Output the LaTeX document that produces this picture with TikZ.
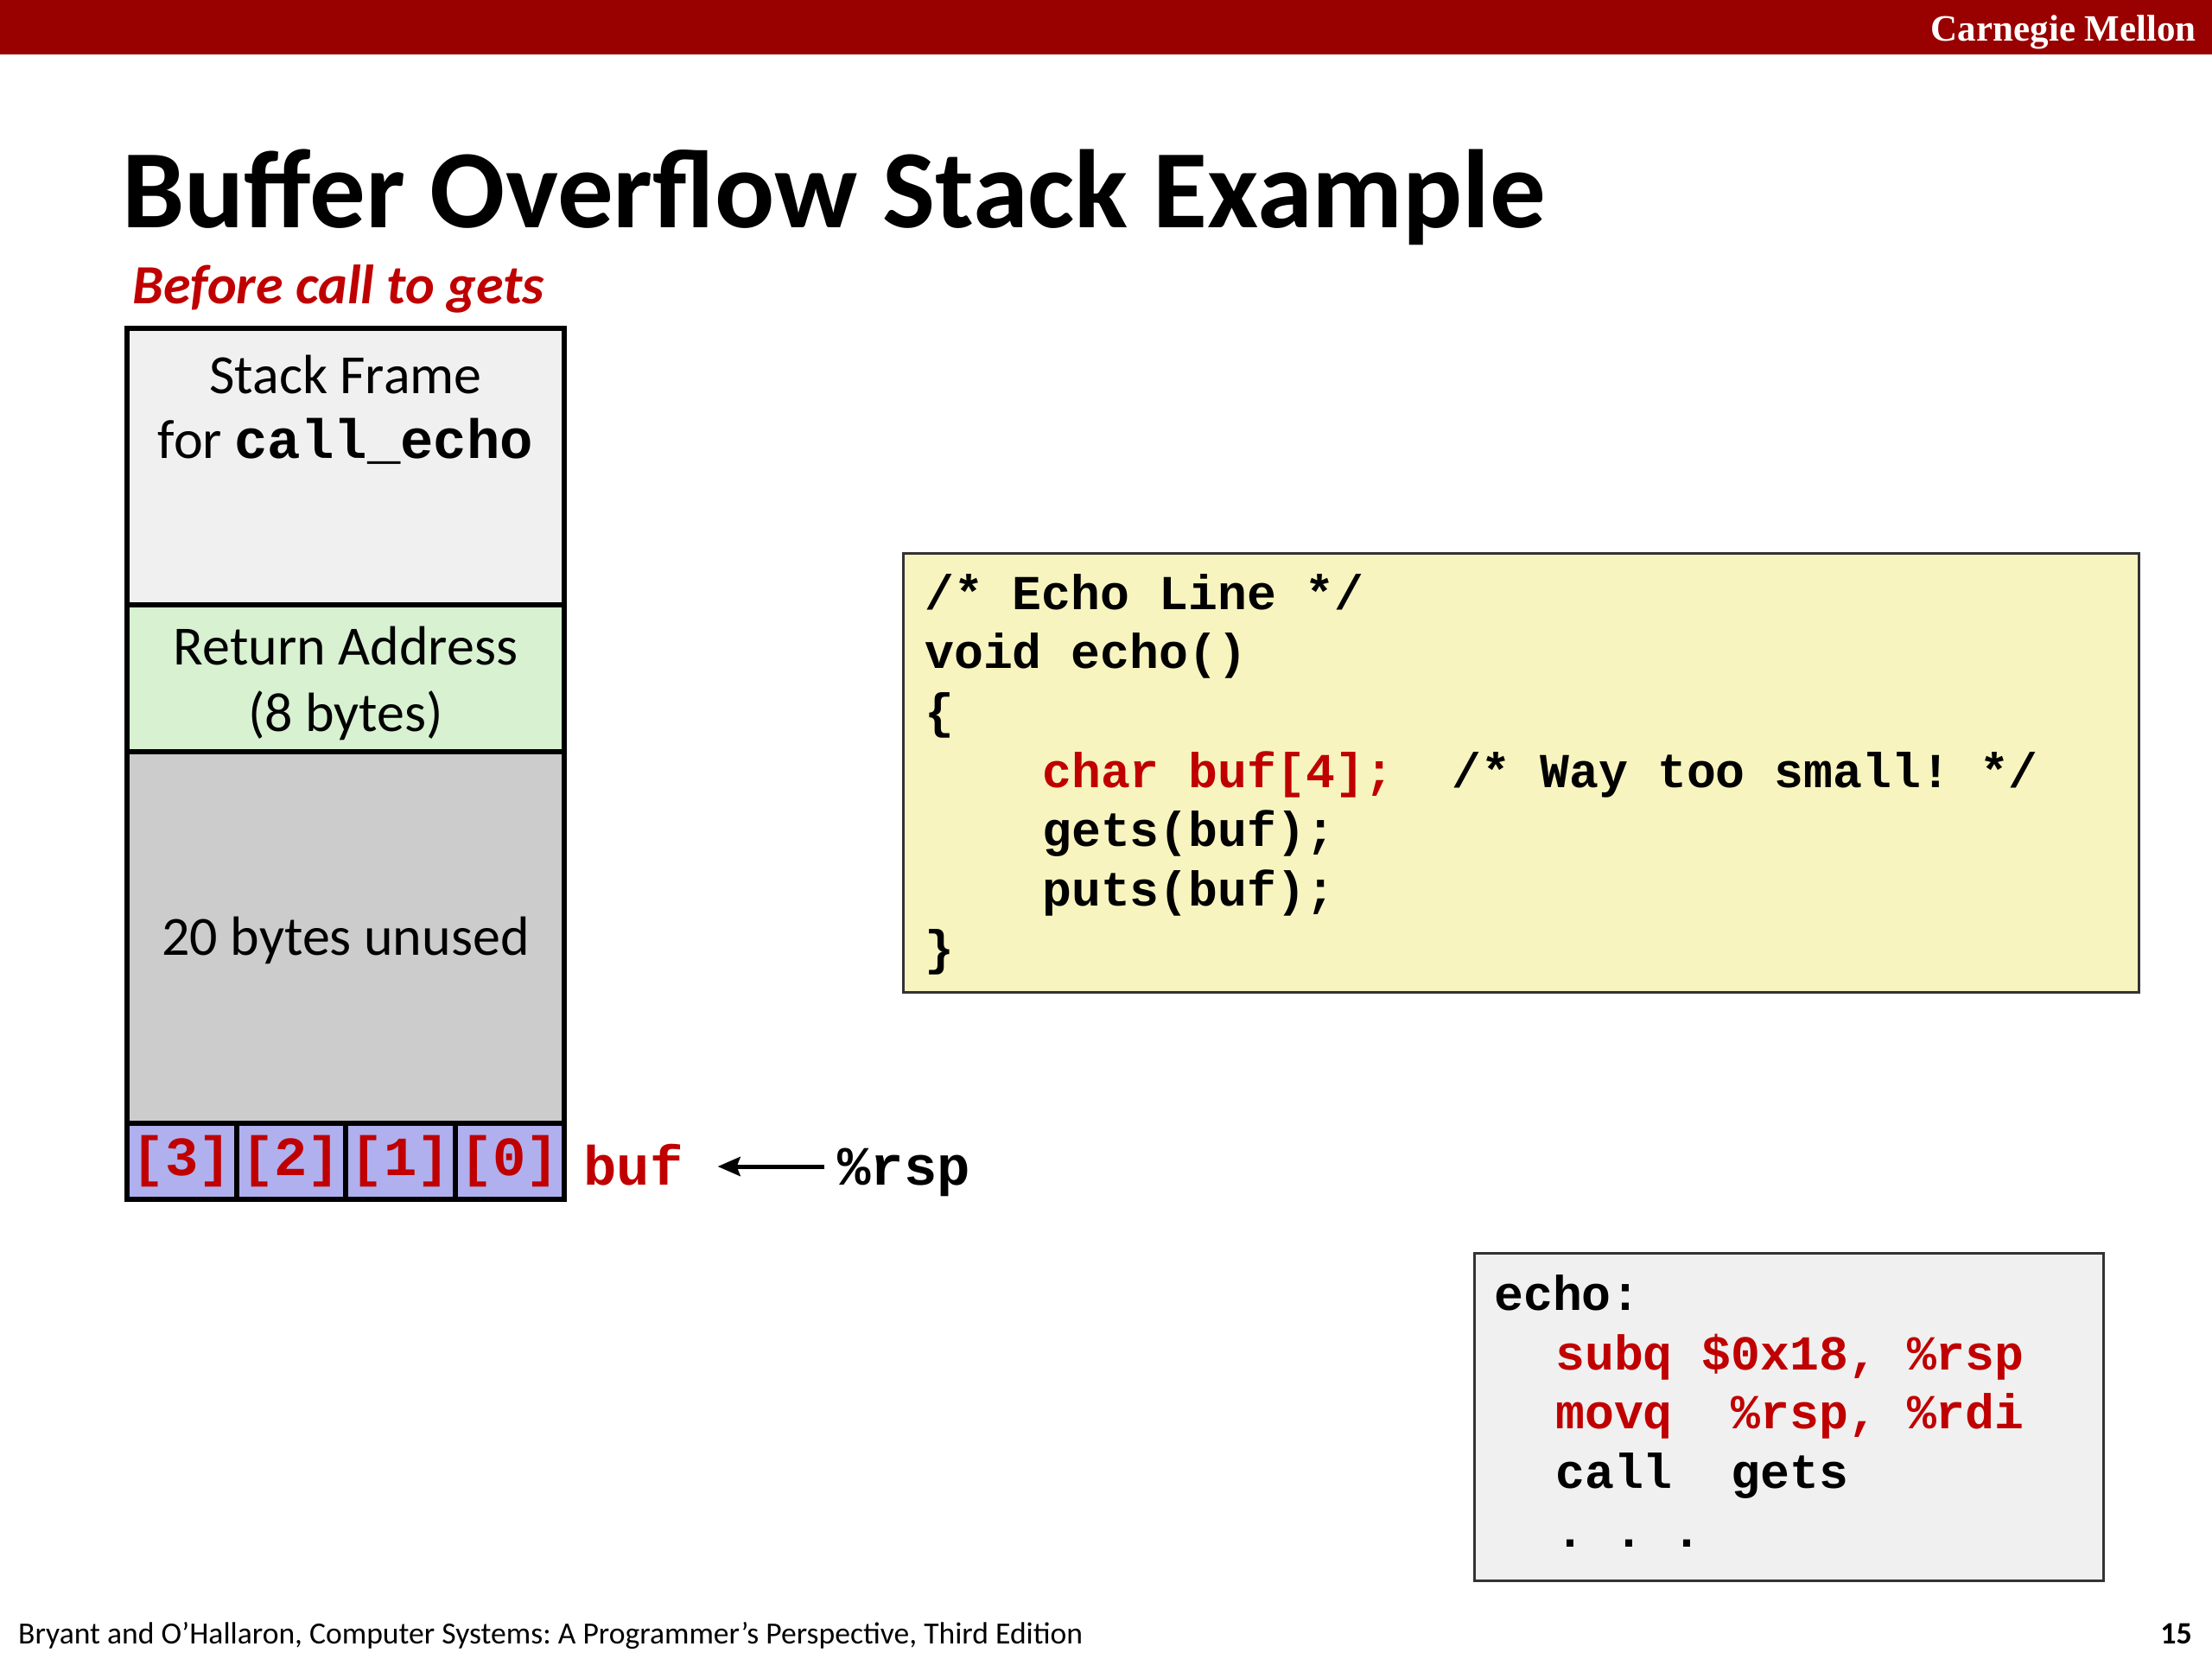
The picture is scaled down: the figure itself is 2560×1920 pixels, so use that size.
\documentclass[tikz,border=0pt]{standalone}
\usepackage{fontspec}
\setmainfont{Carlito}
\newfontfamily\codefont{Liberation Mono}
\newfontfamily\cmufont{Liberation Serif}
\usetikzlibrary{arrows.meta}
\definecolor{cmured}{HTML}{990000}
\definecolor{txtred}{HTML}{C00000}
\definecolor{framegray}{HTML}{F0F0F0}
\definecolor{retgreen}{HTML}{D7F1D1}
\definecolor{unusedgray}{HTML}{CCCCCC}
\definecolor{cellblue}{HTML}{B0B0EE}
\definecolor{codeyellow}{HTML}{F7F4BF}
\definecolor{boxborder}{HTML}{333333}
\frenchspacing
\tikzset{
  stackcell/.style={draw=black, line width=6pt, inner sep=0pt, outer sep=0pt, anchor=north west, align=center,
    font=\fontsize{64}{77}\selectfont},
  stacktxt/.style={inner sep=0pt, anchor=base, align=center, font=\fontsize{64}{77}\selectfont},
  bufcell/.style={stackcell, fill=cellblue, minimum width=126.5, minimum height=88, text=txtred,
    font=\fontsize{64}{77}\selectfont\codefont\bfseries},
  codebox/.style={draw=boxborder, line width=3pt, inner sep=0pt, outer sep=0pt, anchor=north west},
  codeline/.style={inner sep=0pt, anchor=base west, font=\fontsize{56.5}{68}\selectfont\codefont\bfseries},
  ptr/.style={inner sep=0pt, anchor=base west, text height=55pt, text depth=13pt,
    font=\fontsize{64}{77}\selectfont\codefont\bfseries},
  arr/.style={line width=5pt, -{Stealth[length=26pt,width=22pt,inset=4pt]}}
}
\begin{document}
\begin{tikzpicture}[x=1pt,y=-1pt]
\useasboundingbox (0,0) rectangle (2560,1920);
\fill[white] (0,0) rectangle (2560,1920);
% header bar
\node[fill=cmured, inner sep=0pt, outer sep=0pt, minimum width=2560, minimum height=63, anchor=north west] (bar) at (0,0) {};
\node[inner sep=0pt, anchor=base east, text=white, font=\fontsize{43}{50}\selectfont\cmufont\bfseries] (cmu) at (2542,47) {Carnegie Mellon};
% title
\node[inner sep=0pt, anchor=base west, font=\fontsize{129}{150}\selectfont\bfseries] (title) at (141,263) {Buffer Overflow Stack Example};
\node[inner sep=0pt, anchor=base west, text=txtred, font=\fontsize{64}{77}\selectfont\bfseries\itshape] (sub) at (153,351) {Before call to gets};
% stack
\node[stackcell, fill=framegray, minimum width=506, minimum height=320] (frame) at (147,380) {};
\node[stacktxt] (sf1) at (400,455) {Stack Frame};
\node[stacktxt] (sf2) at (400,530) {for {\codefont\bfseries call\_echo}};
\node[stackcell, fill=retgreen, minimum width=506, minimum height=170] (ret) at (147,700) {};
\node[stacktxt, anchor=center] (rettxt) at ([yshift=-6pt]ret.center) {Return Address\\(8 bytes)};
\node[stackcell, fill=unusedgray, minimum width=506, minimum height=430] (unused) at (147,870) {};
\node[stacktxt, anchor=center] (unusedtxt) at ([yshift=-3pt]unused.center) {20 bytes unused};
\node[bufcell] (c3) at (147,1300) {[3]};
\node[bufcell] (c2) at (273.5,1300) {[2]};
\node[bufcell] (c1) at (400,1300) {[1]};
\node[bufcell] (c0) at (526.5,1300) {[0]};
% buf and rsp
\node[ptr, text=txtred] (buf) at (675,1371) {buf};
\node[ptr] (rsp) at (969,1371) {\%rsp};
\draw[arr, shorten <=15pt, shorten >=40pt] (rsp.west) -- (buf.east);
% C source
\node[codebox, fill=codeyellow, minimum width=1430, minimum height=508] (src) at (1045,640) {};
\node[codeline] (l1) at (1070,705) {/* Echo Line */};
\node[codeline] (l2) at (1070,773) {void echo()};
\node[codeline] (l3) at (1070,842) {\{};
\node[codeline] (l4) at (1206,911) {{\color{txtred}char buf[4];}~~/* Way too small! */};
\node[codeline] (l5) at (1206,979) {gets(buf);};
\node[codeline] (l6) at (1206,1048) {puts(buf);};
\node[codeline] (l7) at (1070,1116) {\}};
% assembly
\node[codebox, fill=framegray, minimum width=728, minimum height=379] (asm) at (1706,1450) {};
\node[codeline] (a1) at (1729,1516) {echo:};
\node[codeline, text=txtred] (a2) at (1800,1585) {subq \$0x18, \%rsp};
\node[codeline, text=txtred] (a3) at (1800,1653) {movq~~\%rsp, \%rdi};
\node[codeline] (a4) at (1800,1722) {call~~gets};
\node[codeline] (a5) at (1800,1790) {.~.~.};
% footer
\node[inner sep=0pt, anchor=base west, font=\fontsize{35.6}{40}\selectfont] (foot) at (21,1902) {Bryant and O’Hallaron, Computer Systems: A Programmer’s Perspective, Third Edition};
\node[inner sep=0pt, anchor=base east, font=\fontsize{36}{40}\selectfont\bfseries] (page) at (2537,1902) {15};
\end{tikzpicture}
\end{document}
